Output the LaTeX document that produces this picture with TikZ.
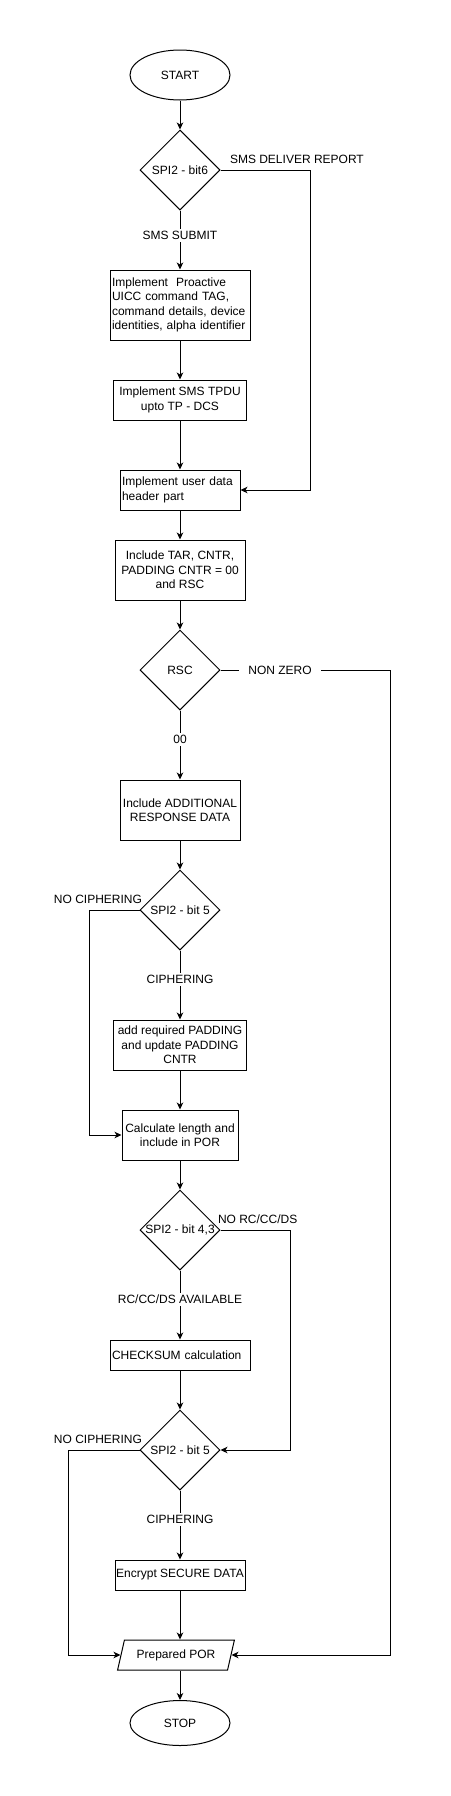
\documentclass[tikz,border=0pt]{standalone}
\usepackage{fontspec}
\setmainfont{Liberation Sans}
\usetikzlibrary{shapes.geometric,arrows.meta}

\begin{document}
\begin{tikzpicture}[x=1pt,y=-1pt,line width=1pt,
  every node/.style={font=\fontsize{12}{14.5}\selectfont},
  >={Stealth[length=7pt,width=6.5pt,inset=2pt]},
  terminal/.style={ellipse,draw,minimum width=100,minimum height=50,inner sep=0},
  process/.style={rectangle,draw,align=center,inner sep=1pt},
  leftbox/.style={rectangle,draw,align=left,inner sep=2pt},
  decision/.style={diamond,draw,minimum width=80,minimum height=80,inner sep=0},
  branch/.style={fill=white,inner sep=2pt},
  sidelabel/.style={inner sep=2pt,yshift=4pt}]
\useasboundingbox (0,0) rectangle (450,1796);
% shapes
\node[terminal] (start) at (180,75) {START};
\node[decision] (spisix) at (180,170) {\makebox[0pt]{SPI2 - bit6}};
\node[leftbox,text width=136,minimum height=70] (proactive) at (180,305) {Implement~~Proactive\\UICC command TAG,\\command details, device\\identities, alpha identifier};
\node[process,minimum width=133,minimum height=40] (tpdu) at (180,400) {Implement SMS TPDU\\upto TP - DCS};
\node[leftbox,text width=116,minimum height=40] (udh) at (180,490) {Implement user data\\header part};
\node[process,minimum width=130,minimum height=60] (tar) at (180,570) {Include TAR, CNTR,\\PADDING CNTR = 00\\and RSC};
\node[decision] (rsc) at (180,670) {\makebox[0pt]{RSC}};
\node[process,minimum width=120,minimum height=60] (addl) at (180,810) {Include ADDITIONAL\\RESPONSE DATA};
\node[decision] (spifiveA) at (180,910) {\makebox[0pt]{SPI2 - bit 5}};
\node[process,minimum width=133,minimum height=50] (padding) at (180,1045) {add required PADDING\\and update PADDING\\CNTR};
\node[process,minimum width=116,minimum height=50] (length) at (180,1135) {Calculate length and\\include in POR};
\node[decision] (spifour) at (180,1230) {\makebox[0pt]{SPI2 - bit 4,3}};
\node[leftbox,text width=136,minimum height=30] (checksum) at (180,1355) {CHECKSUM calculation};
\node[decision] (spifiveB) at (180,1450) {\makebox[0pt]{SPI2 - bit 5}};
\node[process,minimum width=130,minimum height=30] (encrypt) at (180,1575) {Encrypt SECURE DATA};
\node[trapezium,draw,trapezium left angle=65,trapezium right angle=115,trapezium stretches=true,
  minimum width=117,minimum height=30,inner sep=0] (por) at (176,1655) {Prepared POR};
\node[terminal,minimum height=45] (stop) at (180,1723) {STOP};
% main line
\draw[->] (start) -- (spisix);
\draw[->] (spisix) -- node[branch,pos=0.42] {SMS SUBMIT} (proactive);
\draw[->] (proactive) -- (tpdu);
\draw[->] (tpdu) -- (udh);
\draw[->] (udh) -- (tar);
\draw[->] (tar) -- (rsc);
\draw[->] (rsc) -- node[branch,pos=0.42] {00} (addl);
\draw[->] (addl) -- (spifiveA);
\draw[->] (spifiveA) -- node[branch,pos=0.42] {CIPHERING} (padding);
\draw[->] (padding) -- (length);
\draw[->] (length) -- (spifour);
\draw[->] (spifour) -- node[branch,pos=0.42] {RC/CC/DS AVAILABLE} (checksum);
\draw[->] (checksum) -- (spifiveB);
\draw[->] (spifiveB) -- node[branch,pos=0.42] {CIPHERING} (encrypt);
\draw[->] (encrypt.south) -- (encrypt.south |- por.north);
\draw[->] (stop.north |- por.south) -- (stop);
% side branches
\draw[->] (spisix.east) node[sidelabel,anchor=south west,xshift=7pt] {SMS DELIVER REPORT} -- ++(90,0) |- (udh.east);
\draw[->] (rsc.east) -- ++(170,0) node[branch,inner xsep=9pt,pos=0.35] {NON ZERO} |- (por.east);
\draw[->] (spifiveA.west) node[sidelabel,anchor=south east,xshift=5pt] {NO CIPHERING} -- ++(-50,0) |- (length.west);
\draw[->] (spifour.east) node[sidelabel,anchor=south west,xshift=-5pt] {NO RC/CC/DS} -- ++(70,0) |- (spifiveB.east);
\draw[->] (spifiveB.west) node[sidelabel,anchor=south east,xshift=5pt] {NO CIPHERING} -- ++(-71,0) |- (por.west);
\end{tikzpicture}
\end{document}
